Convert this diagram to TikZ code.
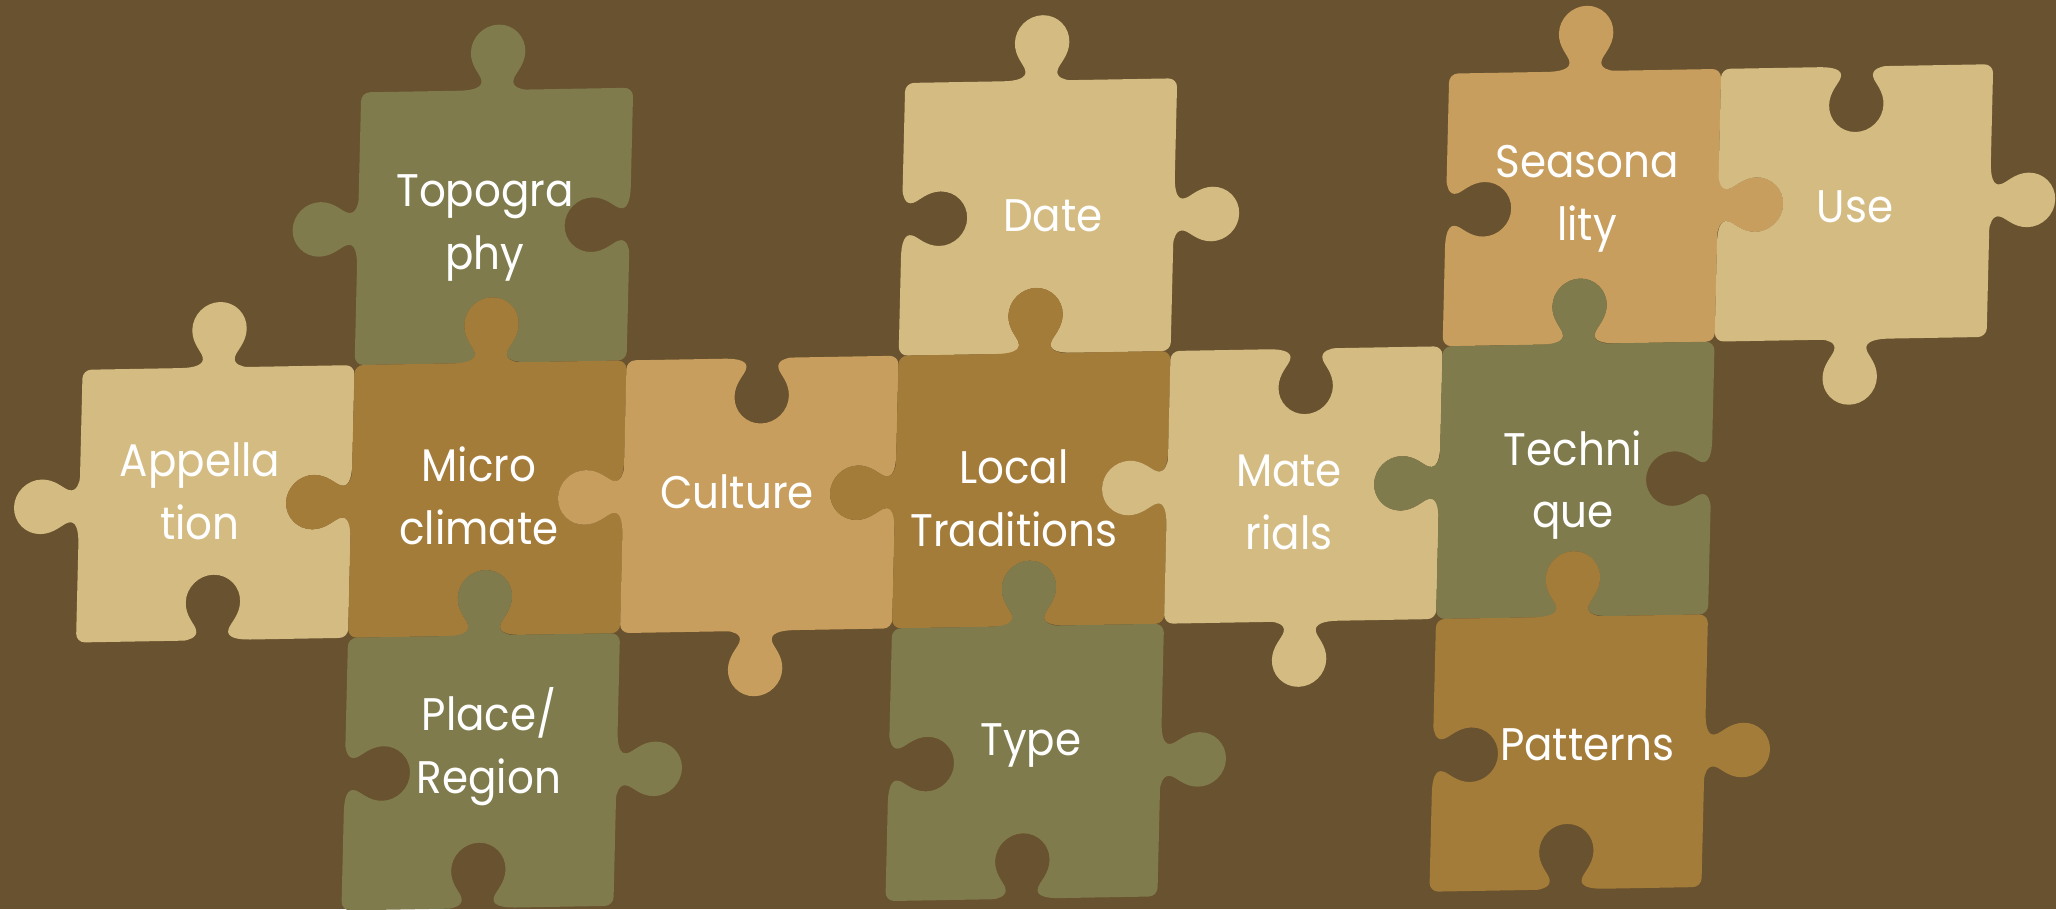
\documentclass[tikz,border=0pt]{standalone}
\usepackage{fontspec}
\setmainfont{Poppins}[FakeStretch=0.92]

\definecolor{puzbg}{HTML}{69522F}
\definecolor{puzolive}{HTML}{7F7B4C}
\definecolor{puzsand}{HTML}{D4BB82}
\definecolor{puzochre}{HTML}{C89E5E}
\definecolor{puzbrown}{HTML}{A47C3A}

\tikzset{
  piecetext/.style={text=white, align=center, inner sep=0pt,
    font=\fontsize{13}{17.9}\selectfont},
}

% one side of a piece, drawn on the bottom edge and turned into place
% #1 = angle, #2 = 1 for a knob, -1 for a hole
\newcommand\tabedge[2]{%
  {[rotate around={#1:(0.5,0.5)}]
  -- (0.36,0) {[sharp corners]
  .. controls (0.41,0) and (0.45,{-(#2)*0.01}) .. (0.44,{-(#2)*0.04})
  .. controls (0.435,{-(#2)*0.06}) and (0.40,{-(#2)*0.09}) .. (0.40,{-(#2)*0.14})
  .. controls (0.40,{-(#2)*0.195}) and (0.445,{-(#2)*0.24}) .. (0.5,{-(#2)*0.24})
  .. controls (0.555,{-(#2)*0.24}) and (0.60,{-(#2)*0.195}) .. (0.60,{-(#2)*0.14})
  .. controls (0.60,{-(#2)*0.09}) and (0.565,{-(#2)*0.06}) .. (0.56,{-(#2)*0.04})
  .. controls (0.55,{-(#2)*0.01}) and (0.59,0) .. (0.64,0)}}}

% #1 column, #2 row, #3 colour, then bottom, right, top, left
\newcommand\piece[7]{%
  \fill[#3, rounded corners=2.5pt, shift={(#1,{-#2-1})}]
    (0,0) \tabedge{0}{#4} -- (1,0) \tabedge{90}{#5}
    -- (1,1) \tabedge{180}{#6} -- (0,1) \tabedge{270}{#7} -- cycle;}

\begin{document}
\begin{tikzpicture}

\fill[puzbg] (0,0) rectangle (20.56,-9.09);
\useasboundingbox (0,0) rectangle (20.56,-9.09);

% Pieces
\begin{scope}[cm={2.72,0.047,0.066,2.727,(0.892,-0.971)}]
\piece{1}{0}{puzolive}{-1}{-1}{1}{1}
\piece{3}{0}{puzsand}{-1}{1}{1}{-1}
\piece{5}{0}{puzochre}{-1}{1}{1}{-1}
\piece{6}{0}{puzsand}{1}{1}{-1}{-1}

\piece{0}{1}{puzsand}{-1}{-1}{1}{1}
\piece{1}{1}{puzbrown}{-1}{-1}{1}{1}
\piece{2}{1}{puzochre}{1}{-1}{-1}{1}
\piece{3}{1}{puzbrown}{-1}{-1}{1}{1}
\piece{4}{1}{puzsand}{1}{-1}{-1}{1}
\piece{5}{1}{puzolive}{-1}{-1}{1}{1}

\piece{1}{2}{puzolive}{-1}{1}{1}{-1}
\piece{3}{2}{puzolive}{-1}{1}{1}{-1}
\piece{5}{2}{puzbrown}{-1}{1}{1}{-1}
\end{scope}

% Labels
\node[piecetext] (topo) at (4.85,-2.28) {Topogra\\phy};
\node[piecetext] (appel) at (2.00,-4.91) {Appella\\tion};
\node[piecetext] (micro) at (4.79,-4.96) {Micro\\climate};
\node[piecetext] (culture) at (7.37,-4.92) {Culture};
\node[piecetext] (date) at (10.53,-2.16) {Date};
\node[piecetext] (local) at (10.14,-4.98) {Local\\Traditions};
\node[piecetext] (mater) at (12.89,-5.02) {Mate\\rials};
\node[piecetext] (techn) at (15.73,-4.85) {Techni\\que};
\node[piecetext] (season) at (15.87,-1.99) {Seasona\\lity};
\node[piecetext] (use) at (18.55,-2.07) {Use};
\node[piecetext] (place) at (4.89,-7.47) {Place/\\Region};
\node[piecetext] (type) at (10.31,-7.45) {Type};
\node[piecetext] (patt) at (15.87,-7.45) {Patterns};

\end{tikzpicture}
\end{document}
